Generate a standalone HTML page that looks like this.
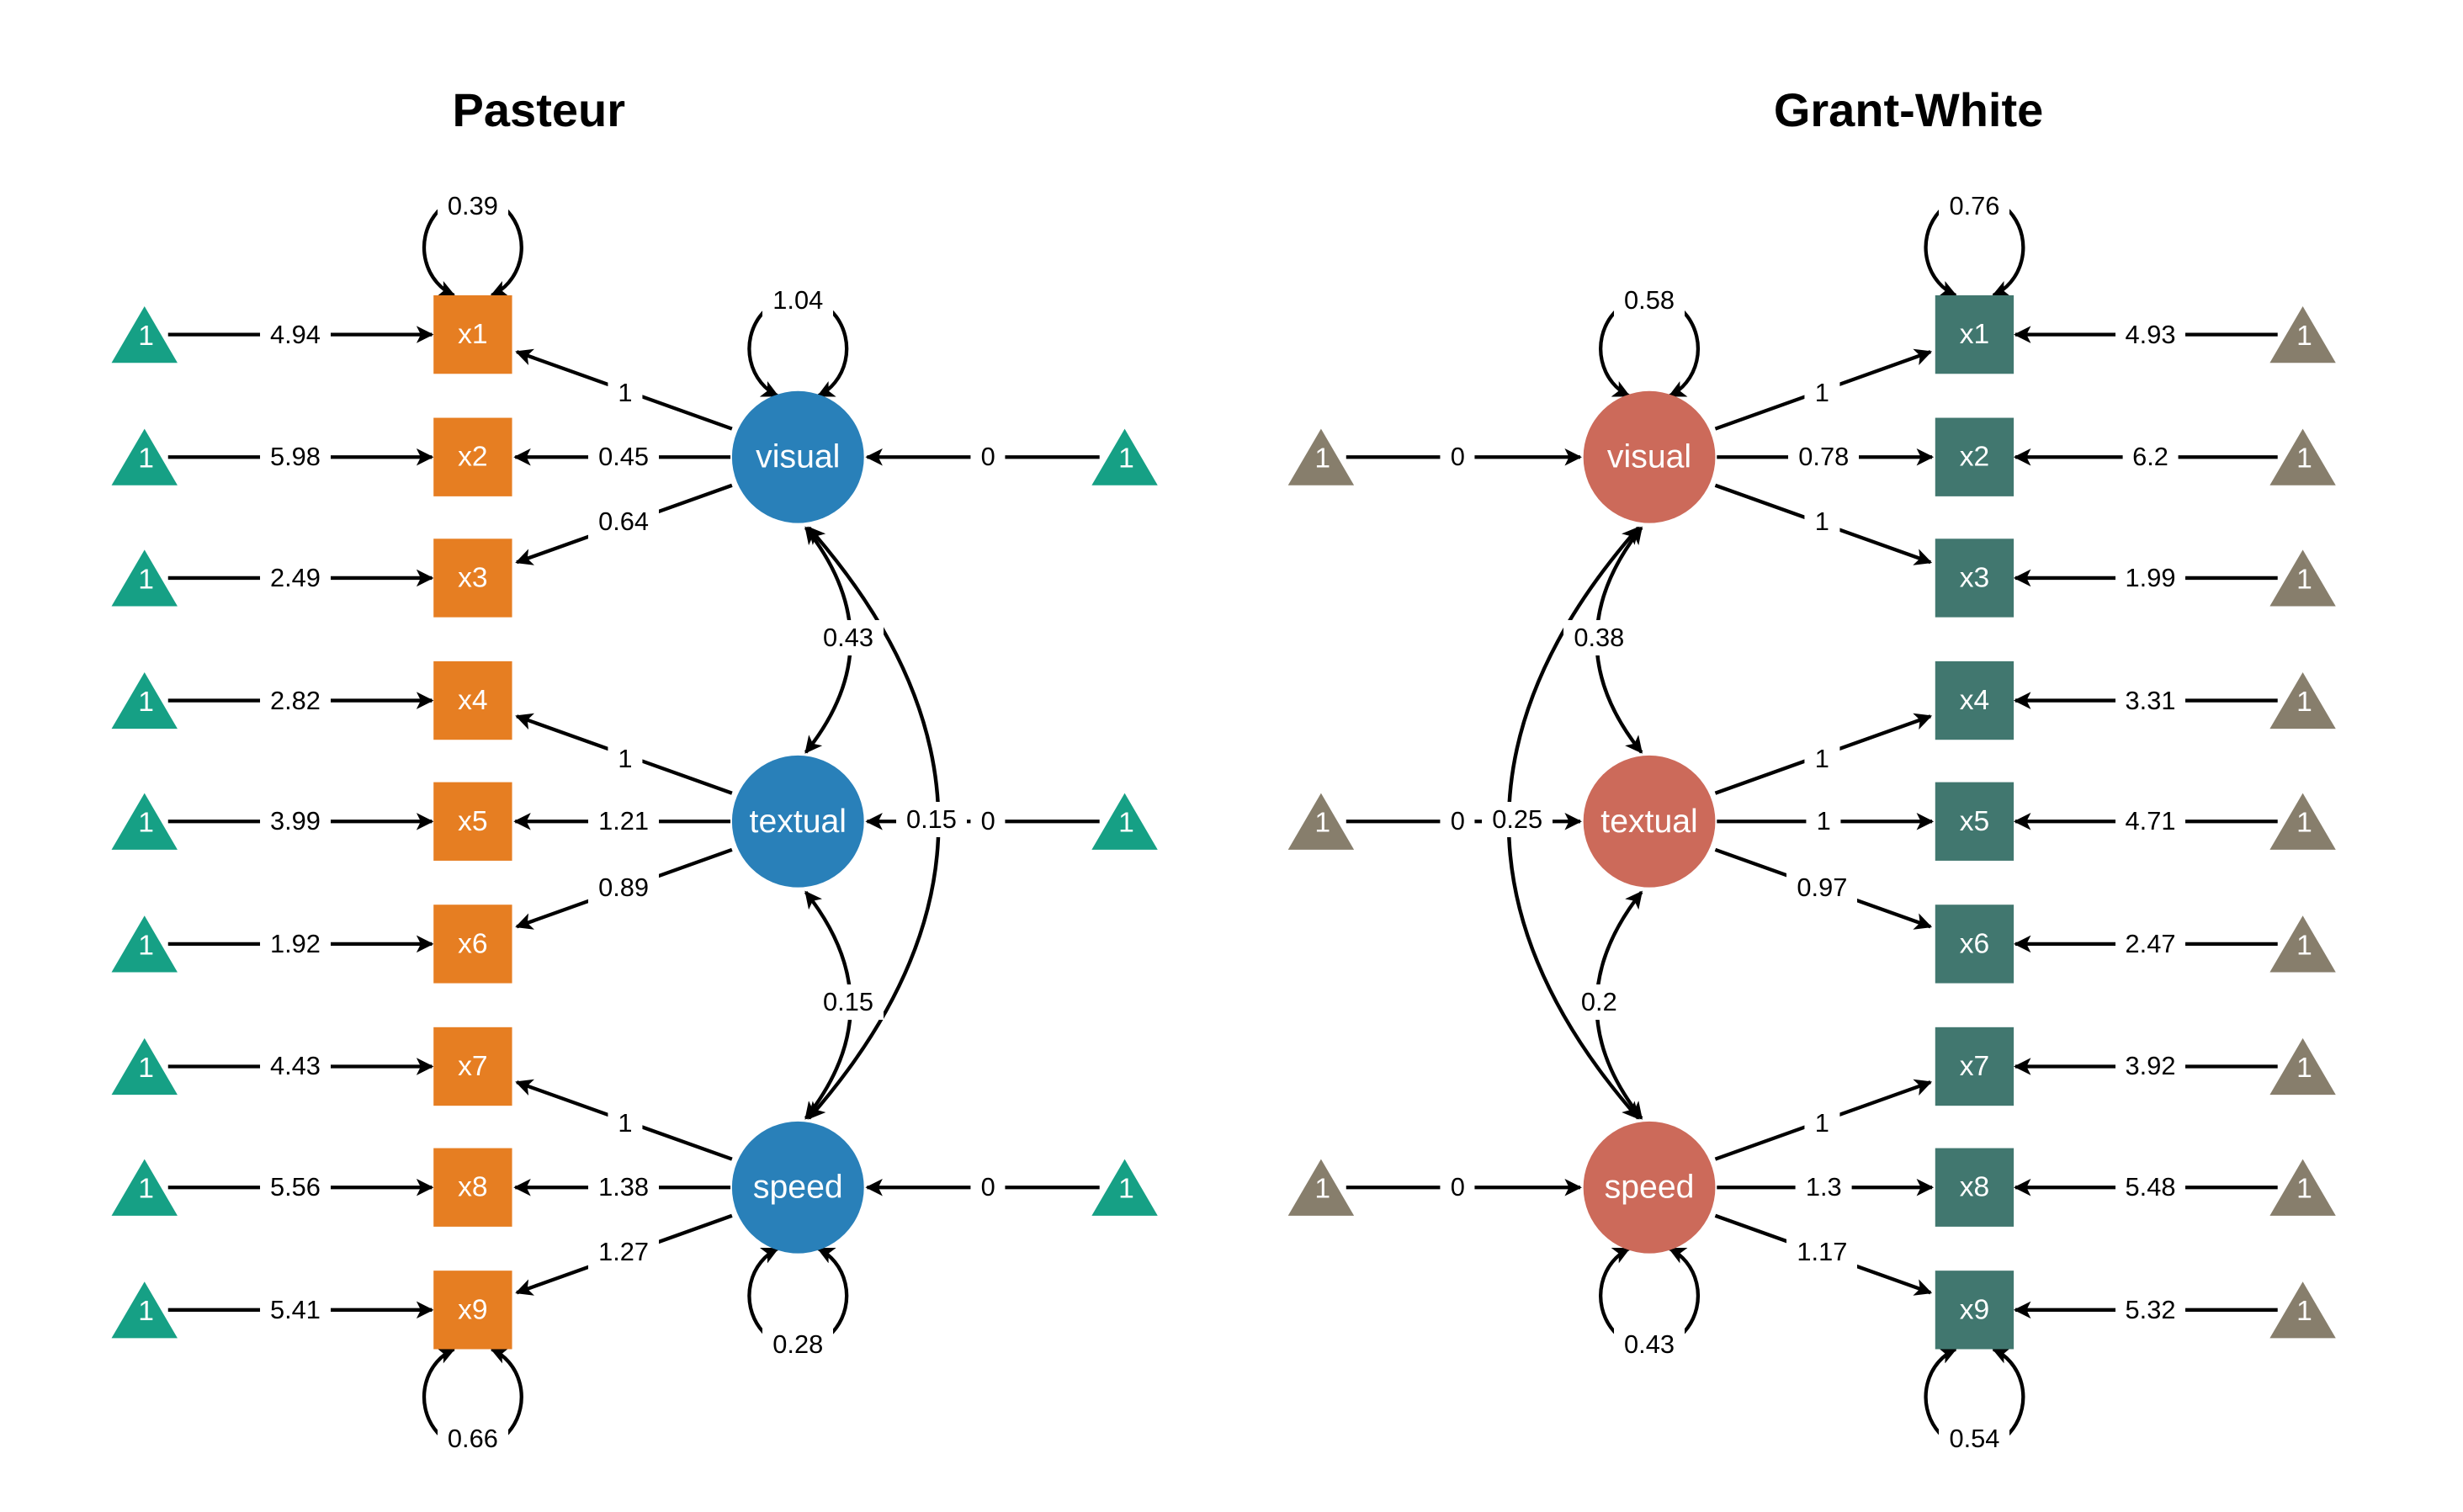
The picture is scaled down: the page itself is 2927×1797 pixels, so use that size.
<!DOCTYPE html>
<html><head><meta charset="utf-8"><style>
html,body{margin:0;padding:0;background:#fff;}
body{position:relative;width:2927px;height:1797px;overflow:hidden;--s:1.8667;}
svg{display:block;position:absolute;left:0;top:0;}
text{font-family:"Liberation Sans",Arial,sans-serif;}
.n{font-size:21px;fill:#fff;text-anchor:middle;dominant-baseline:central;}
.t{font-size:18px;fill:#fff;text-anchor:middle;dominant-baseline:central;}
.e{stroke:#000;stroke-width:2.3;fill:none;}
.a{marker-end:url(#ar);}
.b{marker-start:url(#ar);marker-end:url(#ar);}
.l{position:absolute;transform:translate(-50%,-50%);background:#fff;font-family:"Liberation Sans",Arial,sans-serif;font-size:30.8px;line-height:42px;padding:0 12px;color:#000;white-space:nowrap;}
</style></head><body>
<svg width="2927" height="1797" viewBox="0 0 1568 962.66" xmlns="http://www.w3.org/2000/svg">
<defs>
<marker id="ar" viewBox="0 0 10 10" refX="9" refY="5" markerWidth="11" markerHeight="11" markerUnits="userSpaceOnUse" orient="auto-start-reverse">
<path d="M0,0 L10,5 L0,10 L2.5,5 z" fill="#000"/>
</marker>
</defs>
<text x="343" y="70" font-size="30" font-weight="bold" text-anchor="middle" dominant-baseline="central">Pasteur</text>
<text x="1215" y="70" font-size="30" font-weight="bold" text-anchor="middle" dominant-baseline="central">Grant-White</text>

<!-- PASTEUR -->
<line class="e a" x1="107" y1="213" x2="275" y2="213"/>
<line class="e a" x1="107" y1="291" x2="275" y2="291"/>
<line class="e a" x1="107" y1="368" x2="275" y2="368"/>
<line class="e a" x1="107" y1="446" x2="275" y2="446"/>
<line class="e a" x1="107" y1="523" x2="275" y2="523"/>
<line class="e a" x1="107" y1="601" x2="275" y2="601"/>
<line class="e a" x1="107" y1="679" x2="275" y2="679"/>
<line class="e a" x1="107" y1="756" x2="275" y2="756"/>
<line class="e a" x1="107" y1="834" x2="275" y2="834"/>
<line class="e a" x1="700" y1="291" x2="552" y2="291"/>
<line class="e a" x1="700" y1="523" x2="552" y2="523"/>
<line class="e a" x1="700" y1="756" x2="552" y2="756"/>
<line class="e a" x1="466" y1="273" x2="329" y2="224"/>
<line class="e a" x1="465" y1="291" x2="328" y2="291"/>
<line class="e a" x1="466" y1="309" x2="329" y2="358"/>
<line class="e a" x1="466" y1="505" x2="329" y2="456"/>
<line class="e a" x1="465" y1="523" x2="328" y2="523"/>
<line class="e a" x1="466" y1="541" x2="329" y2="590"/>
<line class="e a" x1="466" y1="738" x2="329" y2="689"/>
<line class="e a" x1="465" y1="756" x2="328" y2="756"/>
<line class="e a" x1="466" y1="774" x2="329" y2="823"/>
<path class="e b" d="M289,188 A31 33 0 1 1 313,188"/>
<path class="e b" d="M289,859 A31 33 0 1 0 313,859"/>
<path class="e b" d="M495,252 A31 33 0 1 1 521,252"/>
<path class="e b" d="M495,795 A31 33 0 1 0 521,795"/>
<path class="e b" d="M513,336 Q570,408 513,479"/>
<path class="e b" d="M513,568 Q570,640 513,712"/>
<path class="e b" d="M515,336 Q680,524 515,712"/>
<g fill="#16A085">
<polygon points="71,231 92,195 113,231"/><polygon points="71,309 92,273 113,309"/><polygon points="71,386 92,350 113,386"/>
<polygon points="71,464 92,428 113,464"/><polygon points="71,541 92,505 113,541"/><polygon points="71,619 92,583 113,619"/>
<polygon points="71,697 92,661 113,697"/><polygon points="71,774 92,738 113,774"/><polygon points="71,852 92,816 113,852"/>
<polygon points="695,309 716,273 737,309"/><polygon points="695,541 716,505 737,541"/><polygon points="695,774 716,738 737,774"/>
</g>
<text class="t" x="93" y="214">1</text><text class="t" x="93" y="292">1</text><text class="t" x="93" y="369">1</text>
<text class="t" x="93" y="447">1</text><text class="t" x="93" y="524">1</text><text class="t" x="93" y="602">1</text>
<text class="t" x="93" y="680">1</text><text class="t" x="93" y="757">1</text><text class="t" x="93" y="835">1</text>
<text class="t" x="717" y="292">1</text><text class="t" x="717" y="524">1</text><text class="t" x="717" y="757">1</text>
<g fill="#E67E22">
<rect x="276" y="188" width="50" height="50"/><rect x="276" y="266" width="50" height="50"/><rect x="276" y="343" width="50" height="50"/>
<rect x="276" y="421" width="50" height="50"/><rect x="276" y="498" width="50" height="50"/><rect x="276" y="576" width="50" height="50"/>
<rect x="276" y="654" width="50" height="50"/><rect x="276" y="731" width="50" height="50"/><rect x="276" y="809" width="50" height="50"/>
</g>
<text class="t" x="301" y="213">x1</text><text class="t" x="301" y="291">x2</text><text class="t" x="301" y="368">x3</text>
<text class="t" x="301" y="446">x4</text><text class="t" x="301" y="523">x5</text><text class="t" x="301" y="601">x6</text>
<text class="t" x="301" y="679">x7</text><text class="t" x="301" y="756">x8</text><text class="t" x="301" y="834">x9</text>
<g fill="#2980B9">
<circle cx="508" cy="291" r="42"/><circle cx="508" cy="523" r="42"/><circle cx="508" cy="756" r="42"/>
</g>
<text class="n" x="508" y="291">visual</text><text class="n" x="508" y="523">textual</text><text class="n" x="508" y="756">speed</text>

<!-- GRANT-WHITE -->
<line class="e a" x1="1450" y1="213" x2="1283" y2="213"/>
<line class="e a" x1="1450" y1="291" x2="1283" y2="291"/>
<line class="e a" x1="1450" y1="368" x2="1283" y2="368"/>
<line class="e a" x1="1450" y1="446" x2="1283" y2="446"/>
<line class="e a" x1="1450" y1="523" x2="1283" y2="523"/>
<line class="e a" x1="1450" y1="601" x2="1283" y2="601"/>
<line class="e a" x1="1450" y1="679" x2="1283" y2="679"/>
<line class="e a" x1="1450" y1="756" x2="1283" y2="756"/>
<line class="e a" x1="1450" y1="834" x2="1283" y2="834"/>
<line class="e a" x1="857" y1="291" x2="1006" y2="291"/>
<line class="e a" x1="857" y1="523" x2="1006" y2="523"/>
<line class="e a" x1="857" y1="756" x2="1006" y2="756"/>
<line class="e a" x1="1092" y1="273" x2="1229" y2="224"/>
<line class="e a" x1="1093" y1="291" x2="1230" y2="291"/>
<line class="e a" x1="1092" y1="309" x2="1229" y2="358"/>
<line class="e a" x1="1092" y1="505" x2="1229" y2="456"/>
<line class="e a" x1="1093" y1="523" x2="1230" y2="523"/>
<line class="e a" x1="1092" y1="541" x2="1229" y2="590"/>
<line class="e a" x1="1092" y1="738" x2="1229" y2="689"/>
<line class="e a" x1="1093" y1="756" x2="1230" y2="756"/>
<line class="e a" x1="1092" y1="774" x2="1229" y2="823"/>
<path class="e b" d="M1245,188 A31 33 0 1 1 1269,188"/>
<path class="e b" d="M1245,859 A31 33 0 1 0 1269,859"/>
<path class="e b" d="M1037,252 A31 33 0 1 1 1063,252"/>
<path class="e b" d="M1037,795 A31 33 0 1 0 1063,795"/>
<path class="e b" d="M1045,336 Q988,408 1045,479"/>
<path class="e b" d="M1045,568 Q988,640 1045,712"/>
<path class="e b" d="M1043,336 Q878,524 1043,712"/>
<g fill="#877E6C">
<polygon points="1445,231 1466,195 1487,231"/><polygon points="1445,309 1466,273 1487,309"/><polygon points="1445,386 1466,350 1487,386"/>
<polygon points="1445,464 1466,428 1487,464"/><polygon points="1445,541 1466,505 1487,541"/><polygon points="1445,619 1466,583 1487,619"/>
<polygon points="1445,697 1466,661 1487,697"/><polygon points="1445,774 1466,738 1487,774"/><polygon points="1445,852 1466,816 1487,852"/>
<polygon points="820,309 841,273 862,309"/><polygon points="820,541 841,505 862,541"/><polygon points="820,774 841,738 862,774"/>
</g>
<text class="t" x="1467" y="214">1</text><text class="t" x="1467" y="292">1</text><text class="t" x="1467" y="369">1</text>
<text class="t" x="1467" y="447">1</text><text class="t" x="1467" y="524">1</text><text class="t" x="1467" y="602">1</text>
<text class="t" x="1467" y="680">1</text><text class="t" x="1467" y="757">1</text><text class="t" x="1467" y="835">1</text>
<text class="t" x="842" y="292">1</text><text class="t" x="842" y="524">1</text><text class="t" x="842" y="757">1</text>
<g fill="#41776F">
<rect x="1232" y="188" width="50" height="50"/><rect x="1232" y="266" width="50" height="50"/><rect x="1232" y="343" width="50" height="50"/>
<rect x="1232" y="421" width="50" height="50"/><rect x="1232" y="498" width="50" height="50"/><rect x="1232" y="576" width="50" height="50"/>
<rect x="1232" y="654" width="50" height="50"/><rect x="1232" y="731" width="50" height="50"/><rect x="1232" y="809" width="50" height="50"/>
</g>
<text class="t" x="1257" y="213">x1</text><text class="t" x="1257" y="291">x2</text><text class="t" x="1257" y="368">x3</text>
<text class="t" x="1257" y="446">x4</text><text class="t" x="1257" y="523">x5</text><text class="t" x="1257" y="601">x6</text>
<text class="t" x="1257" y="679">x7</text><text class="t" x="1257" y="756">x8</text><text class="t" x="1257" y="834">x9</text>
<g fill="#CC6A5A">
<circle cx="1050" cy="291" r="42"/><circle cx="1050" cy="523" r="42"/><circle cx="1050" cy="756" r="42"/>
</g>
<text class="n" x="1050" y="291">visual</text><text class="n" x="1050" y="523">textual</text><text class="n" x="1050" y="756">speed</text>
</svg>

<div class="l" style="left:calc(var(--s)*188px);top:calc(var(--s)*213px)">4.94</div>
<div class="l" style="left:calc(var(--s)*188px);top:calc(var(--s)*291px)">5.98</div>
<div class="l" style="left:calc(var(--s)*188px);top:calc(var(--s)*368px)">2.49</div>
<div class="l" style="left:calc(var(--s)*188px);top:calc(var(--s)*446px)">2.82</div>
<div class="l" style="left:calc(var(--s)*188px);top:calc(var(--s)*523px)">3.99</div>
<div class="l" style="left:calc(var(--s)*188px);top:calc(var(--s)*601px)">1.92</div>
<div class="l" style="left:calc(var(--s)*188px);top:calc(var(--s)*679px)">4.43</div>
<div class="l" style="left:calc(var(--s)*188px);top:calc(var(--s)*756px)">5.56</div>
<div class="l" style="left:calc(var(--s)*188px);top:calc(var(--s)*834px)">5.41</div>
<div class="l" style="left:calc(var(--s)*629px);top:calc(var(--s)*291px)">0</div>
<div class="l" style="left:calc(var(--s)*629px);top:calc(var(--s)*523px)">0</div>
<div class="l" style="left:calc(var(--s)*629px);top:calc(var(--s)*756px)">0</div>
<div class="l" style="left:calc(var(--s)*398px);top:calc(var(--s)*250px)">1</div>
<div class="l" style="left:calc(var(--s)*397px);top:calc(var(--s)*291px)">0.45</div>
<div class="l" style="left:calc(var(--s)*397px);top:calc(var(--s)*332px)">0.64</div>
<div class="l" style="left:calc(var(--s)*398px);top:calc(var(--s)*483px)">1</div>
<div class="l" style="left:calc(var(--s)*397px);top:calc(var(--s)*523px)">1.21</div>
<div class="l" style="left:calc(var(--s)*397px);top:calc(var(--s)*565px)">0.89</div>
<div class="l" style="left:calc(var(--s)*398px);top:calc(var(--s)*715px)">1</div>
<div class="l" style="left:calc(var(--s)*397px);top:calc(var(--s)*756px)">1.38</div>
<div class="l" style="left:calc(var(--s)*397px);top:calc(var(--s)*797px)">1.27</div>
<div class="l" style="left:calc(var(--s)*301px);top:calc(var(--s)*131px)">0.39</div>
<div class="l" style="left:calc(var(--s)*301px);top:calc(var(--s)*916px)">0.66</div>
<div class="l" style="left:calc(var(--s)*508px);top:calc(var(--s)*191px)">1.04</div>
<div class="l" style="left:calc(var(--s)*508px);top:calc(var(--s)*856px)">0.28</div>
<div class="l" style="left:calc(var(--s)*540px);top:calc(var(--s)*406px)">0.43</div>
<div class="l" style="left:calc(var(--s)*540px);top:calc(var(--s)*638px)">0.15</div>
<div class="l" style="left:calc(var(--s)*593px);top:calc(var(--s)*522px)">0.15</div>

<div class="l" style="left:calc(var(--s)*1369px);top:calc(var(--s)*213px)">4.93</div>
<div class="l" style="left:calc(var(--s)*1369px);top:calc(var(--s)*291px)">6.2</div>
<div class="l" style="left:calc(var(--s)*1369px);top:calc(var(--s)*368px)">1.99</div>
<div class="l" style="left:calc(var(--s)*1369px);top:calc(var(--s)*446px)">3.31</div>
<div class="l" style="left:calc(var(--s)*1369px);top:calc(var(--s)*523px)">4.71</div>
<div class="l" style="left:calc(var(--s)*1369px);top:calc(var(--s)*601px)">2.47</div>
<div class="l" style="left:calc(var(--s)*1369px);top:calc(var(--s)*679px)">3.92</div>
<div class="l" style="left:calc(var(--s)*1369px);top:calc(var(--s)*756px)">5.48</div>
<div class="l" style="left:calc(var(--s)*1369px);top:calc(var(--s)*834px)">5.32</div>
<div class="l" style="left:calc(var(--s)*928px);top:calc(var(--s)*291px)">0</div>
<div class="l" style="left:calc(var(--s)*928px);top:calc(var(--s)*523px)">0</div>
<div class="l" style="left:calc(var(--s)*928px);top:calc(var(--s)*756px)">0</div>
<div class="l" style="left:calc(var(--s)*1160px);top:calc(var(--s)*250px)">1</div>
<div class="l" style="left:calc(var(--s)*1161px);top:calc(var(--s)*291px)">0.78</div>
<div class="l" style="left:calc(var(--s)*1160px);top:calc(var(--s)*332px)">1</div>
<div class="l" style="left:calc(var(--s)*1160px);top:calc(var(--s)*483px)">1</div>
<div class="l" style="left:calc(var(--s)*1161px);top:calc(var(--s)*523px)">1</div>
<div class="l" style="left:calc(var(--s)*1160px);top:calc(var(--s)*565px)">0.97</div>
<div class="l" style="left:calc(var(--s)*1160px);top:calc(var(--s)*715px)">1</div>
<div class="l" style="left:calc(var(--s)*1161px);top:calc(var(--s)*756px)">1.3</div>
<div class="l" style="left:calc(var(--s)*1160px);top:calc(var(--s)*797px)">1.17</div>
<div class="l" style="left:calc(var(--s)*1257px);top:calc(var(--s)*131px)">0.76</div>
<div class="l" style="left:calc(var(--s)*1257px);top:calc(var(--s)*916px)">0.54</div>
<div class="l" style="left:calc(var(--s)*1050px);top:calc(var(--s)*191px)">0.58</div>
<div class="l" style="left:calc(var(--s)*1050px);top:calc(var(--s)*856px)">0.43</div>
<div class="l" style="left:calc(var(--s)*1018px);top:calc(var(--s)*406px)">0.38</div>
<div class="l" style="left:calc(var(--s)*1018px);top:calc(var(--s)*638px)">0.2</div>
<div class="l" style="left:calc(var(--s)*966px);top:calc(var(--s)*522px)">0.25</div>
</body></html>
